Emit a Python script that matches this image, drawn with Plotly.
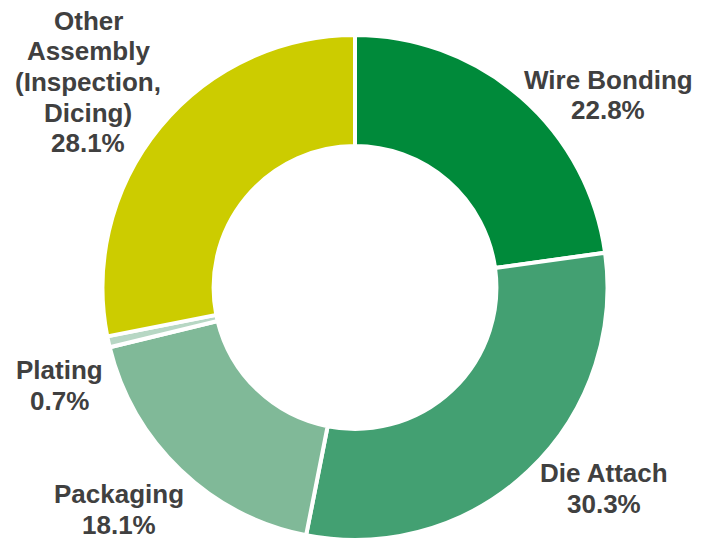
import plotly.graph_objects as go

# Data
categories = ["Wire Bonding", "Die Attach", "Packaging", "Plating", "Other Assembly (Inspection, Dicing)"]
label_lines = [["Wire Bonding"], ["Die Attach"], ["Packaging"], ["Plating"],
               ["Other", "Assembly", "(Inspection,", "Dicing)"]]
shares = [22.8, 30.3, 18.1, 0.7, 28.1]
colors = ["#008A3A", "#43A072", "#80B998", "#B7D7C4", "#CCCC00"]

W, H = 703, 540

# label anchor positions in pixels (center x, center y of first line)
label_pos = [(608, 80), (604, 473), (119, 494), (59, 370), (88, 21)]
line_gap = 30.5

fig = go.Figure()
fig.add_trace(go.Pie(
    labels=categories,
    values=shares,
    marker=dict(colors=colors, line=dict(color="white", width=4)),
    hole=0.56,
    sort=False,
    direction="clockwise",
    rotation=0,
    textinfo="none",
    hoverinfo="label+percent",
    showlegend=False,
    domain=dict(x=[101 / W, 609 / W], y=[0.0, 1 - 35 / H]),
))

annotations = []
for lines, val, (cx, cy) in zip(label_lines, shares, label_pos):
    all_lines = lines + [f"{val:.1f}%"]
    for i, t in enumerate(all_lines):
        y = cy + i * line_gap
        annotations.append(dict(
            text=f"<b>{t}</b>", x=cx / W, y=1 - y / H, xref="paper", yref="paper",
            xanchor="center", yanchor="middle", showarrow=False,
            font=dict(family="Liberation Sans, Arial, sans-serif", size=26, color="#404040"),
        ))

fig.update_layout(
    width=W, height=H,
    margin=dict(l=0, r=0, t=0, b=0),
    paper_bgcolor="white", plot_bgcolor="white",
    annotations=annotations,
)

fig.write_html("out.html")
